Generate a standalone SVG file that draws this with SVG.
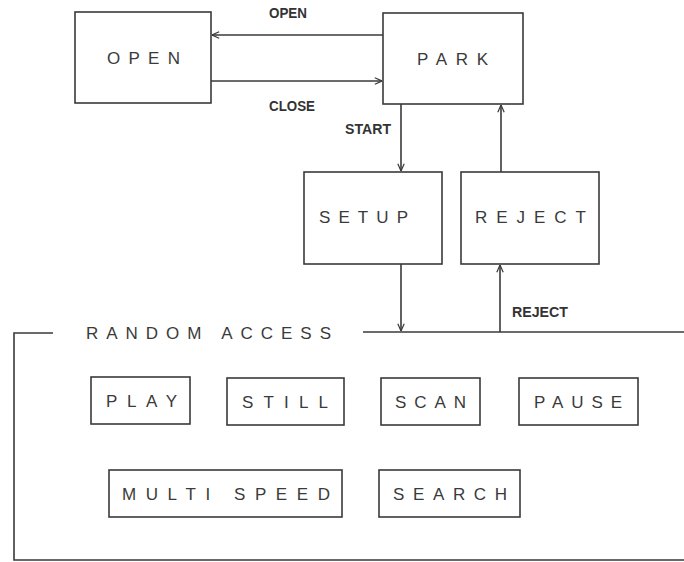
<svg xmlns="http://www.w3.org/2000/svg" width="684" height="562" viewBox="0 0 684 562">
<style>
.box{fill:#fff;stroke:#3a3a3a;stroke-width:1.6}
.lbl{font-family:"Liberation Sans",Arial,sans-serif;font-size:17px;fill:#3a3a3a}
.elbl{font-family:"Liberation Sans",Arial,sans-serif;font-size:14px;font-weight:bold;fill:#333}
.ln{fill:none;stroke:#3a3a3a;stroke-width:1.6}
</style>
<defs>
<marker id="arr" viewBox="0 0 10 10" refX="10" refY="5" markerWidth="8" markerHeight="8" markerUnits="userSpaceOnUse" orient="auto">
<path d="M1,1 L10,5 L1,9" fill="none" stroke="#3a3a3a" stroke-width="1.5"/>
</marker>
</defs>
<rect width="684" height="562" fill="#fff"/>
<g id="connectors">
<line class="ln" x1="383" y1="35" x2="212" y2="35" marker-end="url(#arr)"/>
<line class="ln" x1="211" y1="81" x2="382" y2="81" marker-end="url(#arr)"/>
<line class="ln" x1="401" y1="104" x2="401" y2="171" marker-end="url(#arr)"/>
<line class="ln" x1="501" y1="172" x2="501" y2="105" marker-end="url(#arr)"/>
<line class="ln" x1="401" y1="264" x2="401" y2="331" marker-end="url(#arr)"/>
<line class="ln" x1="500" y1="332" x2="500" y2="265" marker-end="url(#arr)"/>
<line class="ln" x1="363" y1="332" x2="684" y2="332"/>
<text class="elbl" x="269" y="18" textLength="38" lengthAdjust="spacingAndGlyphs">OPEN</text>
<text class="elbl" x="269" y="111" textLength="46" lengthAdjust="spacingAndGlyphs">CLOSE</text>
<text class="elbl" x="345" y="134" textLength="46" lengthAdjust="spacingAndGlyphs">START</text>
<text class="elbl" x="512" y="317" textLength="56" lengthAdjust="spacingAndGlyphs">REJECT</text>
</g>
<g id="random-access">
<path class="ln" d="M53,333 H14 V560 H684"/>
<text class="lbl" x="86" y="339" textLength="245" lengthAdjust="spacing">RANDOM  ACCESS</text>
</g>
<g id="node-open">
<rect class="box" x="75" y="12" width="136" height="91"/>
<text class="lbl" x="107" y="64" textLength="73" lengthAdjust="spacing">OPEN</text>
</g>
<g id="node-park">
<rect class="box" x="383" y="13" width="140" height="91"/>
<text class="lbl" x="417" y="65" textLength="71" lengthAdjust="spacing">PARK</text>
</g>
<g id="node-setup">
<rect class="box" x="304" y="172" width="138" height="92"/>
<text class="lbl" x="319" y="223" textLength="89" lengthAdjust="spacing">SETUP</text>
</g>
<g id="node-reject">
<rect class="box" x="461" y="172" width="138" height="92"/>
<text class="lbl" x="475" y="223" textLength="111" lengthAdjust="spacing">REJECT</text>
</g>
<g id="node-play">
<rect class="box" x="91" y="377" width="99" height="47"/>
<text class="lbl" x="106" y="407" textLength="71" lengthAdjust="spacing">PLAY</text>
</g>
<g id="node-still">
<rect class="box" x="227" y="378" width="117" height="47"/>
<text class="lbl" x="242" y="408" textLength="86" lengthAdjust="spacing">STILL</text>
</g>
<g id="node-scan">
<rect class="box" x="381" y="378" width="99" height="47"/>
<text class="lbl" x="395" y="408" textLength="71" lengthAdjust="spacing">SCAN</text>
</g>
<g id="node-pause">
<rect class="box" x="519" y="378" width="119" height="47"/>
<text class="lbl" x="534" y="408" textLength="88" lengthAdjust="spacing">PAUSE</text>
</g>
<g id="node-multispeed">
<rect class="box" x="109" y="470" width="233" height="47"/>
<text class="lbl" x="122" y="500" textLength="208" lengthAdjust="spacing">MULTI  SPEED</text>
</g>
<g id="node-search">
<rect class="box" x="379" y="470" width="141" height="47"/>
<text class="lbl" x="393" y="500" textLength="114" lengthAdjust="spacing">SEARCH</text>
</g>
</svg>
